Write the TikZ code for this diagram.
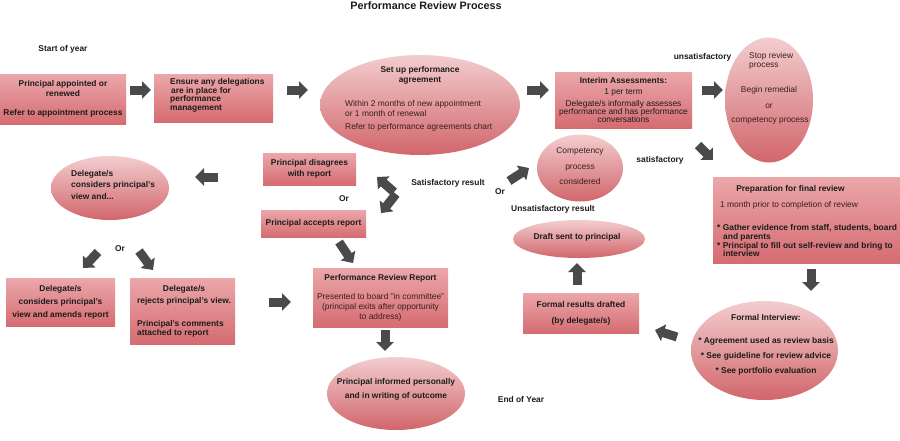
\documentclass[tikz,border=0pt]{standalone}
\usepackage{fontspec}
\setmainfont{Liberation Sans}
\usetikzlibrary{shapes.geometric,arrows.meta}
\definecolor{bxtop}{HTML}{EBA7AA}
\definecolor{bxbot}{HTML}{D56C71}
\definecolor{ovtop}{HTML}{F3CDCF}
\definecolor{ovbot}{HTML}{D1666B}
\definecolor{arr}{HTML}{4A4A4A}
\definecolor{txtreg}{HTML}{3A1E1E}
\definecolor{txtb}{HTML}{1C1C1C}
\newcommand\dfs{\fontsize{8.4}{10}\selectfont}
\begin{document}
\begin{tikzpicture}[x=1pt,y=-1pt,
 box/.style={rectangle, top color=bxtop, bottom color=bxbot, inner sep=0pt, align=center, font=\dfs\bfseries, text=txtb},
 oval/.style={ellipse, top color=ovtop, bottom color=ovbot, inner sep=0pt},
 bt/.style={font=\dfs\bfseries, text=txtb, inner sep=0pt, align=center},
 rt/.style={font=\dfs, text=txtreg, inner sep=0pt, align=center},
 blk/.style={draw=arr, line width=9pt, -{Triangle[length=9pt,width=17pt]}},
]
\useasboundingbox[fill=white] (0,0) rectangle (900,440);

% title and free labels
\node[bt, font=\fontsize{10.8}{12}\selectfont\bfseries] (title) at (426,5.5) {Performance Review Process};
\node[bt] (start) at (63,49) {Start of year};
\node[bt] (unsat) at (702.5,57) {unsatisfactory};
\node[bt] (sat) at (660,160) {satisfactory};
\node[bt] (satres) at (448,183) {Satisfactory result};
\node[bt] (or1) at (500,192) {Or};
\node[bt] (unsatres) at (553,209) {Unsatisfactory result};
\node[bt] (or2) at (344,199) {Or};
\node[bt] (or3) at (120,249) {Or};
\node[bt] (end) at (521,399) {End of Year};

% row 1
\node[box, minimum width=126pt, minimum height=50pt] (b1) at (63,99)
  {Principal appointed or\\renewed\\[9pt]Refer to appointment process};
\node[box, minimum width=119pt, minimum height=48pt] (b2) at (213.5,98) {};
\node[bt, align=left, font=\fontsize{8.4}{8.5}\selectfont\bfseries, anchor=west] (t2) at (170,95.5)
  {Ensure any delegations\\\hspace*{1pt}are in place for\\performance\\management};
\node[oval, minimum width=200pt, minimum height=100pt] (e3) at (420,105) {};
\node[bt] (t3a) at (420,75) {Set up performance\\agreement};
\node[rt, anchor=west, align=left, font=\fontsize{8.4}{9.5}\selectfont] (t3b) at (345,108.5)
  {Within 2 months of new appointment\\or 1 month of renewal};
\node[rt, anchor=west] (t3c) at (345,127) {Refer to performance agreements chart};
\node[box, minimum width=137pt, minimum height=56pt, font=\dfs] (b4) at (623.5,100)
  {\textbf{Interim Assessments:}\\[1pt]1 per term\\[2pt]Delegate/s informally assesses\\[-2pt]performance and has performance\\[-2pt]conversations};
\node[oval, minimum width=88pt, minimum height=125pt] (e5) at (769,100) {};
\node[rt, anchor=west, align=left, font=\fontsize{8.4}{9}\selectfont] (t5a) at (749,60.5) {Stop review\\process};
\node[rt] (t5b) at (769,90) {Begin remedial};
\node[rt] (t5c) at (769,106) {or};
\node[rt] (t5d) at (770,121) {competency process};

% middle
\node[oval, minimum width=86pt, minimum height=67pt] (e6) at (580,168) {};
\node[rt] (t6) at (580,166) {Competency\\[6pt]process\\[5pt]considered};
\node[box, minimum width=93pt, minimum height=32pt] (b7) at (309.5,169) {Principal disagrees\\[1pt]with report};
\node[box, minimum width=105pt, minimum height=27pt] (b8) at (313.5,223.5) {Principal accepts report};
\node[oval, minimum width=118pt, minimum height=64pt] (e9) at (110,188) {};
\node[bt, anchor=west, align=left] (t9) at (71,185) {Delegate/s\\[1pt]considers principal's\\[2pt]view and...};
\node[box, minimum width=187pt, minimum height=86pt] (b16) at (806.5,220) {};
\node[bt] (t16a) at (790.5,189) {Preparation for final review};
\node[rt, anchor=west] (t16b) at (720,205) {1 month prior to completion of review};
\node[bt, anchor=north west, align=left, font=\fontsize{8.4}{9}\selectfont\bfseries] (t16c) at (717,224.5)
  {* Gather evidence from staff, students, board\\\hspace*{6pt}and parents\\* Principal to fill out self-review and bring to\\[-1pt]\hspace*{6pt}interview};
\node[oval, minimum width=132pt, minimum height=38pt] (e15) at (579,239) {};
\node[bt] (t15) at (577,237) {Draft sent to principal};

% bottom
\node[box, minimum width=109pt, minimum height=48pt] (b10) at (60.5,302)
  {Delegate/s\\[3pt]considers principal's\\[3pt]view and amends report};
\node[box, minimum width=105pt, minimum height=66pt] (b11) at (182.5,311) {};
\node[bt] (t11a) at (184,295) {Delegate/s\\[2pt]rejects principal's view.};
\node[bt, anchor=west, align=left, font=\fontsize{8.4}{8.5}\selectfont\bfseries] (t11b) at (137,329) {Principal's comments\\attached to report};
\node[box, minimum width=135pt, minimum height=59pt, font=\dfs] (b12) at (380.5,297.5)
  {\textbf{Performance Review Report}\\[9pt]{\color{txtreg}Presented to board "in committee"}\\{\color{txtreg}(principal exits after opportunity}\\{\color{txtreg}to address)}};
\node[oval, minimum width=138pt, minimum height=73pt] (e13) at (396,393.5) {};
\node[bt] (t13) at (396,389) {Principal informed personally\\[4pt]and in writing of outcome};
\node[box, minimum width=116pt, minimum height=40pt] (b14) at (581,313) {Formal results drafted\\[6pt](by delegate/s)};
\node[oval, minimum width=147pt, minimum height=99pt] (e17) at (764.5,350.5) {};
\node[bt] (t17) at (766,344.5) {Formal Interview:\\[13pt]* Agreement used as review basis\\[5pt]* See guideline for review advice\\[5pt]* See portfolio evaluation};

% block arrows
\draw[blk] (130,90) -- (151,90);
\draw[blk] (287,90) -- (308,90);
\draw[blk] (527,90) -- (549,90);
\draw[blk] (702,90) -- (723,90);
\draw[blk] (698,145) -- (713,160);
\draw[blk] (509,181) -- (529,168);
\draw[blk] (394,192) -- (377,177);
\draw[blk] (396,194) -- (381,213);
\draw[blk] (218,177) -- (195,177);
\draw[blk] (98,252) -- (83,268);
\draw[blk] (139,251) -- (153,270);
\draw[blk] (269,302) -- (291,302);
\draw[blk] (339,242) -- (353,263);
\draw[blk] (385,330) -- (385,351);
\draw[blk] (577,285) -- (577,263);
\draw[blk] (811,269) -- (811,291);
\draw[blk] (677,337) -- (655,330);
\end{tikzpicture}
\end{document}
